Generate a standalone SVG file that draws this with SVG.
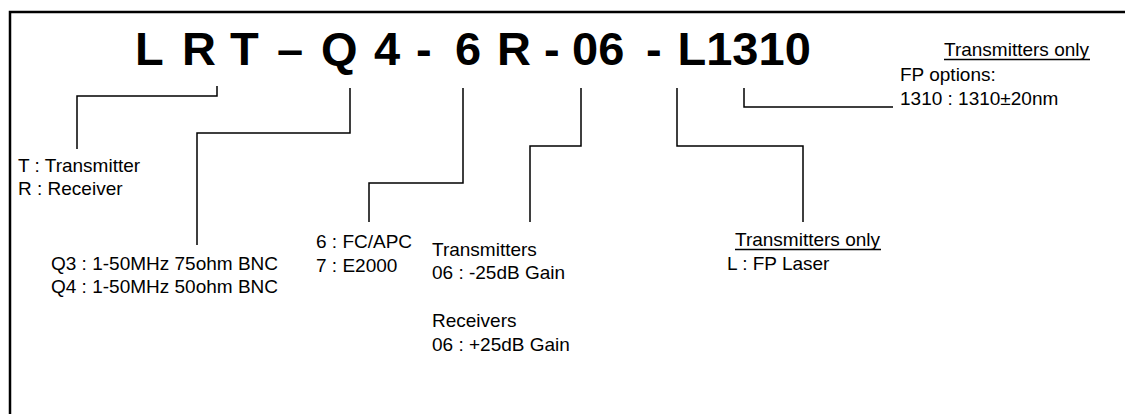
<svg xmlns="http://www.w3.org/2000/svg" width="1125" height="414" viewBox="0 0 1125 414">
<style>
.t{font-family:"Liberation Sans",Arial,sans-serif;font-size:19px;fill:#000}
.title{font-family:"Liberation Sans",Arial,sans-serif;font-size:47px;font-weight:bold;fill:#000}
.c{fill:none;stroke:#000;stroke-width:1.5}
.u{stroke:#000;stroke-width:1.5}
</style>
<rect width="1125" height="414" fill="#fff"/>
<path d="M10,414 V12 H1125" fill="none" stroke="#000" stroke-width="2.5"/>
<g id="title">
<text class="title" y="65"><tspan x="135">L</tspan><tspan x="182">R</tspan><tspan x="230">T</tspan><tspan x="277">–</tspan><tspan x="321">Q</tspan><tspan x="374">4</tspan><tspan x="416">-</tspan><tspan x="455">6</tspan><tspan x="497">R</tspan><tspan x="544">-</tspan><tspan x="572">06</tspan><tspan x="646">-</tspan><tspan x="677.5">L1310</tspan></text>
</g>
<g id="connectors">
<path class="c" d="M217,86 V96 H77 V149"/>
<path class="c" d="M350,88 V133 H197 V245"/>
<path class="c" d="M463,88 V183 H369 V222"/>
<path class="c" d="M581,88 V146 H530 V222"/>
<path class="c" d="M677,88 V146 H803 V222"/>
<path class="c" d="M744,88 V107 H893"/>
</g>
<g id="node-type">
<text class="t" x="18" y="172">T : Transmitter</text>
<text class="t" x="18" y="195">R : Receiver</text>
</g>
<g id="node-connector">
<text class="t" x="51" y="270">Q3 : 1-50MHz 75ohm BNC</text>
<text class="t" x="51" y="293">Q4 : 1-50MHz 50ohm BNC</text>
</g>
<g id="node-fiber">
<text class="t" x="316" y="248">6 : FC/APC</text>
<text class="t" x="316" y="272">7 : E2000</text>
</g>
<g id="node-gain">
<text class="t" x="432" y="256">Transmitters</text>
<text class="t" x="432" y="279">06 : -25dB Gain</text>
<text class="t" x="432" y="327">Receivers</text>
<text class="t" x="432" y="351">06 : +25dB Gain</text>
</g>
<g id="node-laser">
<text class="t" x="735" y="246">Transmitters only</text>
<line class="u" x1="735" y1="249.5" x2="881" y2="249.5"/>
<text class="t" x="727" y="270">L : FP Laser</text>
</g>
<g id="node-wavelength">
<text class="t" x="944" y="56">Transmitters only</text>
<line class="u" x1="944" y1="59.5" x2="1090" y2="59.5"/>
<text class="t" x="900" y="81">FP options:</text>
<text class="t" x="900" y="105">1310 : 1310±20nm</text>
</g>
</svg>
